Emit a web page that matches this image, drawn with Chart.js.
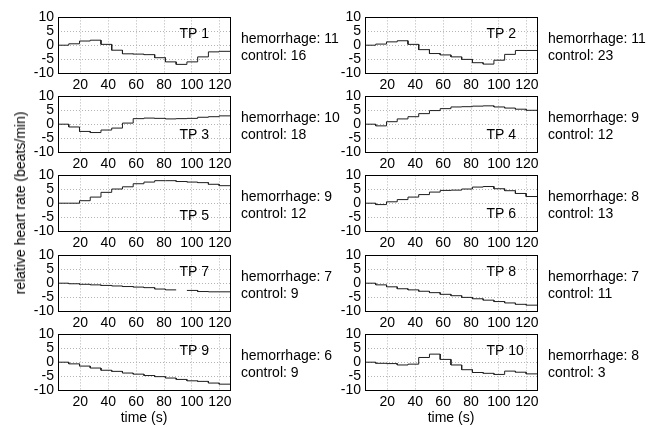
<!DOCTYPE html>
<html>
<head>
<meta charset="utf-8">
<script src="https://cdn.jsdelivr.net/npm/chart.js@4.4.1/dist/chart.umd.min.js"></script>
<style>
  html, body { margin: 0; padding: 0; background: #fff; }
  #wrap { position: relative; width: 657px; height: 427px; overflow: hidden; font-family: "Liberation Sans", Arial, sans-serif; }
  #wrap canvas { position: absolute; }
  .lbl { position: absolute; font-size: 14px; color: #000; white-space: nowrap; line-height: 16px; }
</style>
</head>
<body>
<div id="wrap"></div>
<script>
// panel names and counts shown beside each panel
const tpNames = ['TP 1', 'TP 2', 'TP 3', 'TP 4', 'TP 5', 'TP 6', 'TP 7', 'TP 8', 'TP 9', 'TP 10'];
const hemorrhage = [11, 11, 10, 9, 9, 8, 7, 7, 6, 8];
const control = [16, 23, 18, 12, 12, 13, 9, 11, 9, 3];

// step edges (s); each value holds from stepTimes[k] to stepTimes[k+1]
const stepTimes = [4, 11.7, 19.4, 27.1, 34.8, 42.5, 50.2, 57.9, 65.6, 73.3, 81, 88.7, 96.4, 104.1, 111.8, 119.5, 128];

// relative heart rate (beats/min) per step
const tp1 = [0, 0.5, 1.5, 1.8, 0.3, -1.8, -3.1, -3.2, -3.4, -4.5, -6, -6.9, -6, -4.2, -2.4, -2.2];
const tp2 = [0, 0.4, 1.2, 1.6, 0.3, -1.6, -3, -3.5, -4.2, -5.1, -6.3, -6.8, -5.4, -3.3, -1.9, -1.9];
const tp3 = [0, -1, -2.6, -3, -2.1, -1.4, 0.4, 2, 2.2, 2.1, 1.9, 2, 2.1, 2.5, 2.7, 3];
const tp4 = [0, -0.6, 0.9, 1.9, 2.7, 3.8, 4.9, 5.6, 6.2, 6.3, 6.5, 6.6, 6.2, 5.8, 5.4, 5];
const tp5 = [0, 0, 0.9, 2.2, 3.9, 5.1, 5.9, 7, 7.6, 8.1, 8.1, 7.8, 7.6, 7.4, 6.8, 6.3];
const tp6 = [0, -0.5, 0.5, 1.3, 2.2, 3.1, 4, 4.6, 4.7, 5.1, 5.8, 6, 5.2, 4.5, 3.5, 2.4];
const tp7 = [0, -0.2, -0.4, -0.6, -0.8, -1, -1.2, -1.4, -1.6, -2.1, -2.4, null, -2.6, -3, -3.1, -3.1];
const tp8 = [0, -0.6, -1.3, -2, -2.4, -2.9, -3.4, -4, -4.5, -5.1, -5.6, -6.1, -6.6, -7.1, -7.6, -7.9];
const tp9 = [0, -0.6, -1.4, -2.1, -2.9, -3.3, -3.9, -4.3, -4.8, -5.2, -5.7, -6.2, -6.7, -6.9, -7.5, -7.9];
const tp10 = [0, -0.4, -0.5, -1, -0.7, 1.7, 2.9, 1, -1, -2.7, -3.7, -4, -4.4, -3.2, -3.6, -4.2];
const series = [tp1, tp2, tp3, tp4, tp5, tp6, tp7, tp8, tp9, tp10];

// where the TP label sits, in data units
const labelX = 91;
const labelY = [4, 4, -4, -4, -4.5, -4, 4, 4, 4, 4];

const xTicks = [20, 40, 60, 80, 100, 120];
const yTicks = [-10, -5, 0, 5, 10];

const FONT = '"Liberation Sans", Arial, sans-serif';
const wrap = document.getElementById('wrap');

// layout of the 5x2 grid of panels
const rowTops = [15, 94, 173, 253, 332];
const plotH = 58;
const cols = [
  { canvasLeft: 0, canvasW: 360, axisW: 58, padRight: 129 },
  { canvasLeft: 330, canvasW: 327, axisW: 35, padRight: 119 }
];

function stepPoints(values) {
  const pts = [];
  values.forEach((v, k) => {
    pts.push({ x: stepTimes[k], y: v });
    pts.push({ x: stepTimes[k + 1], y: v });
  });
  return pts;
}

// box around the axes + the panel texts
const panelText = {
  id: 'panelText',
  afterDatasetsDraw(chart, args, opts) {
    const { ctx, chartArea: a, scales: { x, y } } = chart;
    ctx.save();
    ctx.strokeStyle = '#000';
    ctx.lineWidth = 1;
    ctx.strokeRect(Math.round(a.left) + 0.5, Math.round(a.top) + 0.5,
      Math.round(a.right - a.left) - 1, Math.round(a.bottom - a.top));
    ctx.fillStyle = '#000';
    ctx.font = '14px ' + FONT;
    ctx.textBaseline = 'middle';
    ctx.textAlign = 'left';
    ctx.fillText(opts.name, x.getPixelForValue(opts.tx), y.getPixelForValue(opts.ty));
    ctx.fillText('hemorrhage: ' + opts.hem, a.right + 10, a.top + 22);
    ctx.fillText('control: ' + opts.ctl, a.right + 10, a.top + 39);
    ctx.restore();
  }
};

series.forEach((vals, i) => {
  const row = Math.floor(i / 2);
  const col = cols[i % 2];
  const canvas = document.createElement('canvas');
  canvas.width = col.canvasW;
  canvas.height = 10 + plotH + 22;
  canvas.style.left = col.canvasLeft + 'px';
  canvas.style.top = (rowTops[row] - 10) + 'px';
  wrap.appendChild(canvas);

  new Chart(canvas.getContext('2d'), {
    type: 'line',
    data: {
      datasets: [{
        data: stepPoints(vals),
        borderColor: '#1e1e1e',
        borderWidth: 1,
        pointRadius: 0,
        fill: false,
        tension: 0,
        spanGaps: false
      }]
    },
    options: {
      responsive: false,
      animation: false,
      events: [],
      layout: { padding: { top: 10, right: col.padRight, bottom: 0, left: 0 } },
      plugins: {
        legend: { display: false },
        tooltip: { enabled: false },
        panelText: { name: tpNames[i], tx: labelX, ty: labelY[i], hem: hemorrhage[i], ctl: control[i] }
      },
      scales: {
        x: {
          type: 'linear',
          min: 4,
          max: 128,
          afterBuildTicks: s => { s.ticks = xTicks.map(v => ({ value: v })); },
          afterFit: s => { s.height = 22; },
          grid: { color: '#b4b4b4', drawTicks: false },
          border: { display: false, dash: [1, 2] },
          ticks: { color: '#000', font: { size: 14, family: FONT }, padding: 4, maxRotation: 0, autoSkip: false, callback: v => String(v) }
        },
        y: {
          type: 'linear',
          min: -10,
          max: 10,
          afterBuildTicks: s => { s.ticks = yTicks.map(v => ({ value: v })); },
          afterFit: s => { s.width = col.axisW; },
          grid: { color: '#b4b4b4', drawTicks: false },
          border: { display: false, dash: [1, 2] },
          ticks: { color: '#000', font: { size: 14, family: FONT }, padding: 4, autoSkip: false, callback: v => String(v) }
        }
      }
    },
    plugins: [panelText]
  });
});

// shared axis titles
function addLabel(text, css) {
  const d = document.createElement('div');
  d.className = 'lbl';
  d.textContent = text;
  Object.assign(d.style, css);
  wrap.appendChild(d);
  return d;
}
addLabel('time (s)', { left: '144px', top: '409px', transform: 'translateX(-50%)' });
addLabel('time (s)', { left: '451px', top: '409px', transform: 'translateX(-50%)' });
addLabel('relative heart rate (beats/min)', { left: '20px', top: '203px', transform: 'translate(-50%, -50%) rotate(-90deg)' });
</script>
</body>
</html>
